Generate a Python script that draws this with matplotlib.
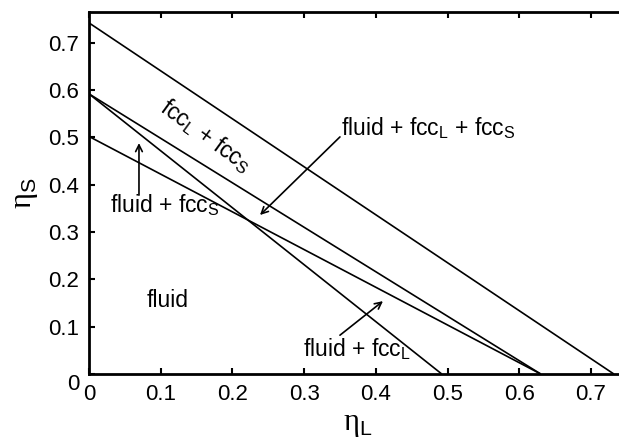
import matplotlib.pyplot as plt
from matplotlib.transforms import ScaledTranslation

plt.rcParams['font.family'] = ['Liberation Sans', 'DejaVu Sans']
plt.rcParams['mathtext.fontset'] = 'custom'
plt.rcParams['mathtext.rm'] = 'Liberation Serif'
plt.rcParams['mathtext.sf'] = 'Liberation Sans'

# Fronteras del diagrama de fases (eta_L, eta_S)
borde_max_x = [0.0, 0.732]
borde_max_y = [0.742, 0.0]
fccL_fccS_x = [0.0, 0.630]
fccL_fccS_y = [0.592, 0.0]
fluid_fccL_x = [0.0, 0.492]
fluid_fccL_y = [0.592, 0.0]
fluid_fccS_x = [0.0, 0.630]
fluid_fccS_y = [0.502, 0.0]

ticks_x = [0, 0.1, 0.2, 0.3, 0.4, 0.5, 0.6, 0.7]
ticks_y = [0, 0.1, 0.2, 0.3, 0.4, 0.5, 0.6, 0.7]
etiquetas = ['0', '0.1', '0.2', '0.3', '0.4', '0.5', '0.6', '0.7']

fig = plt.figure(figsize=(6.19, 4.45), dpi=100)
ax = fig.add_axes([89 / 619, 71 / 445, 0.75 * 717 / 619, 362 / 445])

for xs, ys in [(borde_max_x, borde_max_y), (fccL_fccS_x, fccL_fccS_y),
               (fluid_fccL_x, fluid_fccL_y), (fluid_fccS_x, fluid_fccS_y)]:
    ax.plot(xs, ys, color='black', lw=1.2, solid_capstyle='butt')

ax.set_xlim(0, 0.75)
ax.set_ylim(0, 0.765)
ax.set_xticks(ticks_x)
ax.set_yticks(ticks_y)
ax.set_xticklabels(etiquetas)
ax.set_yticklabels(etiquetas)
ax.tick_params(direction='in', length=4, width=1.5, labelsize=16, top=True,
               right=False, pad=7)
for s in ax.spines.values():
    s.set_linewidth(2)
ax.spines['right'].set_visible(False)

# el "0" del eje y queda un poco por debajo del eje
cero = ax.get_yticklabels()[0]
cero.set_transform(cero.get_transform() + ScaledTranslation(0, -6 / 72, fig.dpi_scale_trans))

ax.set_xlabel(r'$\mathrm{η}_\mathsf{L}$', fontsize=22, labelpad=3)
ax.set_ylabel(r'$\mathrm{η}_\mathsf{S}$', fontsize=22, labelpad=6)

fs = 16.5
flecha = dict(arrowstyle='->', color='black', lw=1.2,
              mutation_scale=12, shrinkA=0, shrinkB=0)

ax.text(0.163, 0.503, r'fcc$_\mathsf{L}$ + fcc$_\mathsf{S}$', fontsize=fs,
        rotation=-36, ha='center', va='center', rotation_mode='anchor')
ax.text(0.473, 0.520, r'fluid + fcc$_\mathsf{L}$ + fcc$_\mathsf{S}$', fontsize=fs,
        ha='center', va='center')
ax.annotate('', xy=(0.2385, 0.336), xytext=(0.350, 0.501), arrowprops=flecha)
ax.text(0.105, 0.357, r'fluid + fcc$_\mathsf{S}$', fontsize=fs,
        ha='center', va='center')
ax.annotate('', xy=(0.0697, 0.488), xytext=(0.0697, 0.378), arrowprops=flecha)
ax.text(0.109, 0.156, 'fluid', fontsize=fs, ha='center', va='center')
ax.text(0.373, 0.052, r'fluid + fcc$_\mathsf{L}$', fontsize=fs,
        ha='center', va='center')
ax.annotate('', xy=(0.410, 0.154), xytext=(0.350, 0.082), arrowprops=flecha)

fig.savefig('out.png', dpi=100)
